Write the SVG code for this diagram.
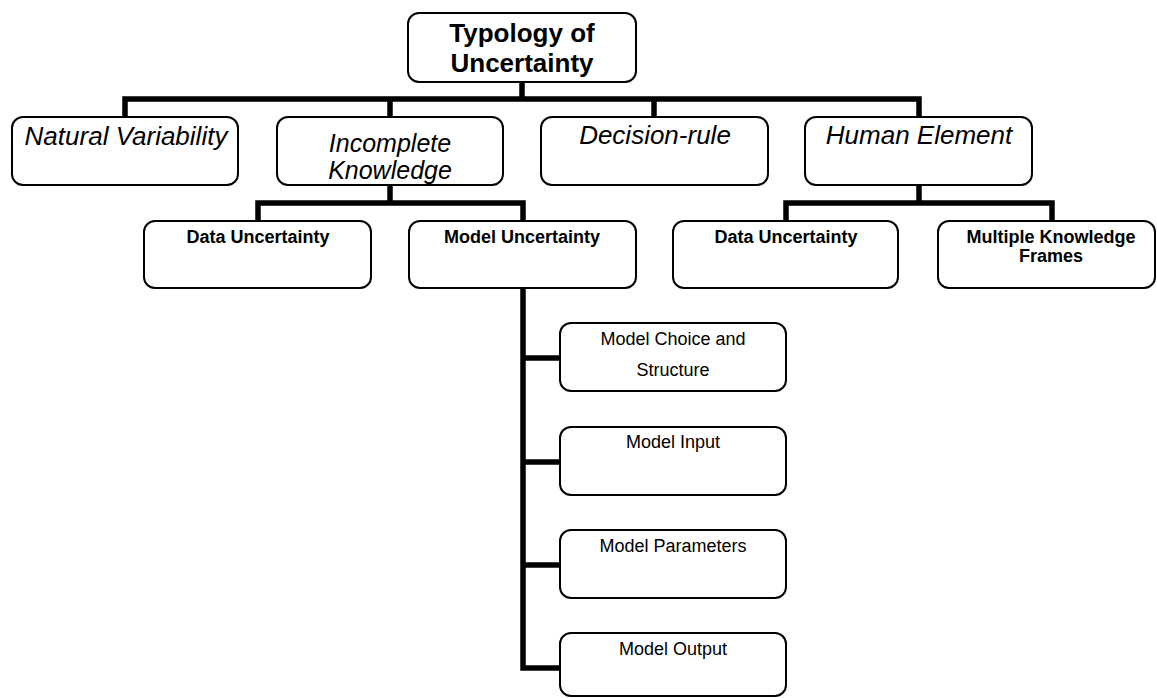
<svg xmlns="http://www.w3.org/2000/svg" width="1157" height="698" viewBox="0 0 1157 698">
<style>
.box{fill:#fff;stroke:#000;stroke-width:2}
.con{fill:none;stroke:#000;stroke-width:5.5;stroke-linejoin:miter}
text{font-family:"Liberation Sans",Arial,sans-serif;fill:#000;text-anchor:middle}
.t0{font-size:26px;font-weight:bold}
.t1{font-size:26px;font-style:italic}
.t1b{font-size:25px;font-style:italic}
.t2{font-size:18px;font-weight:bold}
.t3{font-size:18px}
</style>
<rect width="1157" height="698" fill="#fff"/>
<g id="connectors">
<path class="con" d="M522,82 V99"/>
<path class="con" d="M125,117 V99 H919 V117"/>
<path class="con" d="M390,99 V117"/>
<path class="con" d="M654,99 V117"/>
<path class="con" d="M390,185 V203"/>
<path class="con" d="M258,221 V203 H523 V221"/>
<path class="con" d="M919,185 V203"/>
<path class="con" d="M786,221 V203 H1052 V221"/>
<path class="con" d="M523,288 V668 H560"/>
<path class="con" d="M523,358 H560"/>
<path class="con" d="M523,462 H560"/>
<path class="con" d="M523,565 H560"/>
</g>
<g id="n_root">
<rect class="box" x="408" y="13" width="228" height="69" rx="11"/>
<text class="t0" x="522" y="42">Typology of</text>
<text class="t0" x="522" y="72">Uncertainty</text>
</g>
<g id="n_natural">
<rect class="box" x="12" y="117" width="226" height="68" rx="11"/>
<text class="t1" x="126" y="145">Natural Variability</text>
</g>
<g id="n_incomplete">
<rect class="box" x="277" y="117" width="226" height="68" rx="11"/>
<text class="t1b" x="390" y="152">Incomplete</text>
<text class="t1b" x="390" y="179">Knowledge</text>
</g>
<g id="n_decision">
<rect class="box" x="541" y="117" width="227" height="68" rx="11"/>
<text class="t1" x="655" y="144">Decision-rule</text>
</g>
<g id="n_human">
<rect class="box" x="805" y="117" width="227" height="68" rx="11"/>
<text class="t1" x="919" y="144">Human Element</text>
</g>
<g id="n_data1">
<rect class="box" x="144" y="221" width="227" height="67" rx="11"/>
<text class="t2" x="258" y="243">Data Uncertainty</text>
</g>
<g id="n_model">
<rect class="box" x="409" y="221" width="227" height="67" rx="11"/>
<text class="t2" x="522" y="243">Model Uncertainty</text>
</g>
<g id="n_data2">
<rect class="box" x="673" y="221" width="225" height="67" rx="11"/>
<text class="t2" x="786" y="243">Data Uncertainty</text>
</g>
<g id="n_frames">
<rect class="box" x="938" y="221" width="217" height="67" rx="11"/>
<text class="t2" x="1051" y="243">Multiple Knowledge</text>
<text class="t2" x="1051" y="262">Frames</text>
</g>
<g id="n_choice">
<rect class="box" x="560" y="323" width="226" height="68" rx="11"/>
<text class="t3" x="673" y="345">Model Choice and</text>
<text class="t3" x="673" y="376">Structure</text>
</g>
<g id="n_input">
<rect class="box" x="560" y="427" width="226" height="68" rx="11"/>
<text class="t3" x="673" y="448">Model Input</text>
</g>
<g id="n_params">
<rect class="box" x="560" y="530" width="226" height="68" rx="11"/>
<text class="t3" x="673" y="552">Model Parameters</text>
</g>
<g id="n_output">
<rect class="box" x="560" y="633" width="226" height="63" rx="11"/>
<text class="t3" x="673" y="655">Model Output</text>
</g>
</svg>
